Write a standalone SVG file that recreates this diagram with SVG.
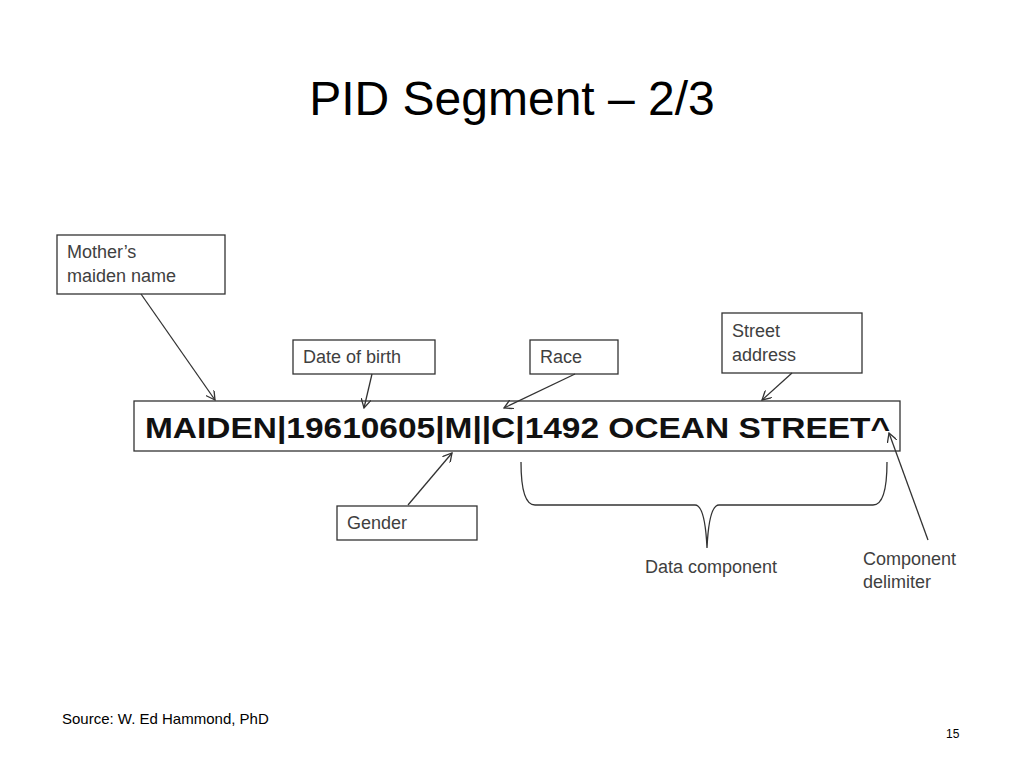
<svg xmlns="http://www.w3.org/2000/svg" width="1024" height="768" viewBox="0 0 1024 768">
<style>
.box{fill:#fff;stroke:#333;stroke-width:1.3}
.lbl{font-family:"Liberation Sans",Arial,sans-serif;font-size:18px;fill:#404040}
.con{stroke:#333;stroke-width:1.3;fill:none}
</style>
<defs><marker id="a" markerWidth="10" markerHeight="10" refX="9" refY="5" orient="auto" markerUnits="userSpaceOnUse"><path d="M0,0 L9,5 L0,10" fill="none" stroke="#333" stroke-width="1.3"/></marker></defs>
<rect width="1024" height="768" fill="#fff"/>
<text x="512" y="115" text-anchor="middle" font-family="Liberation Sans,Arial,sans-serif" font-size="48" fill="#000">PID Segment – 2/3</text>
<g id="mother"><rect class="box" x="57" y="235" width="168" height="59"/><text class="lbl" x="67" y="258">Mother’s</text><text class="lbl" x="67" y="282">maiden name</text></g>
<g id="dob"><rect class="box" x="293" y="340" width="142" height="34"/><text class="lbl" x="303" y="363">Date of birth</text></g>
<g id="race"><rect class="box" x="530" y="340" width="88" height="34"/><text class="lbl" x="540" y="363">Race</text></g>
<g id="street"><rect class="box" x="722" y="313" width="140" height="60"/><text class="lbl" x="732" y="337">Street</text><text class="lbl" x="732" y="361">address</text></g>
<g id="segment"><rect class="box" x="134" y="401" width="766" height="50"/><text x="145" y="438" font-family="Liberation Sans,Arial,sans-serif" font-weight="bold" font-size="30" textLength="745" lengthAdjust="spacingAndGlyphs" fill="#111">MAIDEN|19610605|M||C|1492 OCEAN STREET^</text></g>
<g id="gender"><rect class="box" x="337" y="506" width="140" height="34"/><text class="lbl" x="347" y="529">Gender</text></g>
<g id="datacomp"><text class="lbl" x="645" y="573">Data component</text></g>
<g id="delim"><text class="lbl" x="863" y="565">Component</text><text class="lbl" x="863" y="588">delimiter</text></g>
<g id="connectors">
<path class="con" marker-end="url(#a)" d="M141,294 L215,400"/>
<path class="con" marker-end="url(#a)" d="M372,374 L364,408"/>
<path class="con" marker-end="url(#a)" d="M575,374 L504,408"/>
<path class="con" marker-end="url(#a)" d="M792,373 L762,400"/>
<path class="con" marker-end="url(#a)" d="M408,505 L452,453"/>
<path class="con" marker-end="url(#a)" d="M928,540 L889,433"/>
<path class="con" d="M521,462 Q521,505 535,505 L695,505 Q705,505 707,548 Q709,505 719,505 L873,505 Q887,505 887,462"/>
</g>
<text x="62" y="724" font-family="Liberation Sans,Arial,sans-serif" font-size="15" fill="#000">Source:  W. Ed Hammond, PhD</text>
<text x="946" y="738" font-family="Liberation Sans,Arial,sans-serif" font-size="12" fill="#000">15</text>
</svg>
